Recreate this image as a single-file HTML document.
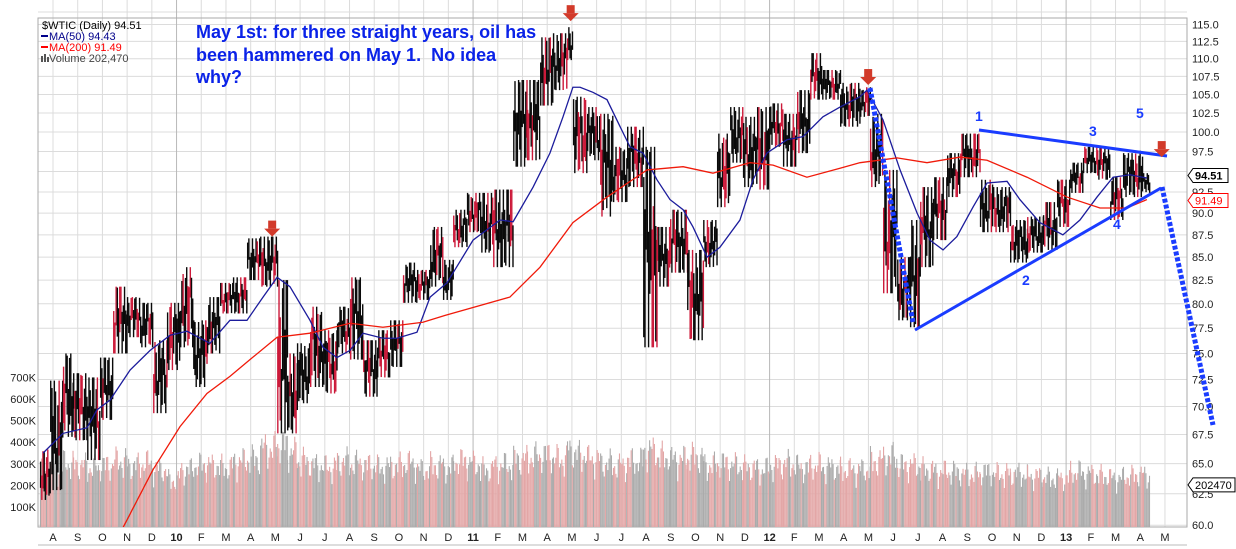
<!DOCTYPE html>
<html><head><meta charset="utf-8"><style>
body{margin:0;background:#fff;}
svg{display:block;font-family:"Liberation Sans",Arial,sans-serif;}
</style></head><body>
<svg id="c" width="1236" height="549" viewBox="0 0 1236 549">
<rect width="1236" height="549" fill="#fff"/>
<g id="grid"></g>
<g id="vol"></g>
<g id="price"></g>
<g id="ma"></g>
<g id="axes"></g>
<g id="anno">
  <text x="196" y="38" font-size="18" font-weight="bold" fill="#0a22e8">May 1st: for three straight years, oil has</text>
  <text x="196" y="61" font-size="18" font-weight="bold" fill="#0a22e8">been hammered on May 1.&#160; No idea</text>
  <text x="196" y="83" font-size="18" font-weight="bold" fill="#0a22e8">why?</text>
  <line x1="870" y1="88" x2="913" y2="322" stroke="#1a3cff" stroke-width="5" stroke-dasharray="4 2"/>
  <line x1="1162" y1="187" x2="1213" y2="425" stroke="#1a3cff" stroke-width="5" stroke-dasharray="4 2"/>
  <line x1="979" y1="130" x2="1167" y2="156" stroke="#1a3cff" stroke-width="3"/>
  <line x1="915" y1="330" x2="1161" y2="188" stroke="#1a3cff" stroke-width="3"/>
  <g font-size="14" font-weight="bold" fill="#1a3cff">
    <text x="975" y="121">1</text>
    <text x="1022" y="285">2</text>
    <text x="1089" y="136">3</text>
    <text x="1113" y="229">4</text>
    <text x="1136" y="118">5</text>
  </g>
</g>
<g id="legend" font-size="11">
  <text x="42" y="29" fill="#000">$WTIC (Daily) 94.51</text>
  <line x1="41" y1="36" x2="48" y2="36" stroke="#00008b" stroke-width="2"/>
  <text x="49" y="40" fill="#00008b">MA(50) 94.43</text>
  <line x1="41" y1="47" x2="48" y2="47" stroke="#f00" stroke-width="2"/>
  <text x="49" y="51" fill="#f00">MA(200) 91.49</text>
  <text x="49" y="62" fill="#444">Volume 202,470</text>
  <rect x="41" y="56" width="2" height="6" fill="#555"/><rect x="44" y="54" width="2" height="8" fill="#555"/><rect x="47" y="57" width="2" height="5" fill="#555"/>
</g>
</svg>
<script>
// period start times (months since Aug 1 2009) — last entry is end
const periodT=[-0.53,-0.12,0.40,0.81,1.38,1.90,2.43,2.99,3.52,4.05,4.61,5.14,5.67,6.23,6.76,7.28,7.85,8.38,9.07,9.47,9.87,10.40,10.93,11.49,12.02,12.55,13.11,13.64,14.16,14.73,15.26,15.78,16.19,16.75,17.28,17.81,18.62,19.18,19.71,20.23,20.80,21.04,21.61,22.14,22.66,23.23,23.88,24.44,24.97,25.66,26.31,26.87,27.40,27.92,28.49,29.02,29.54,30.11,30.64,31.16,31.85,32.66,33.06,33.59,34.16,34.68,35.09,35.61,36.18,36.71,37.51,38.04,38.73,39.42,40.06,40.63,41.16,41.68,42.25,42.78,43.30,43.87,44.11,44.39];
const highs=[66.2,72.4,75.0,73.1,72.7,74.6,81.8,80.7,80.1,76.3,80.1,83.9,78.3,80.7,82.2,82.8,87.1,87.3,82.5,75.0,76.0,79.7,77.3,79.7,82.8,76.3,77.3,78.3,84.4,83.6,88.4,84.7,90.4,92.4,92.4,92.8,107.0,107.0,113.1,113.7,114.6,104.7,103.3,102.4,98.1,100.7,98.1,88.4,90.4,85.8,89.2,99.8,103.3,102.0,103.3,103.8,102.4,105.6,110.8,108.4,106.6,106.0,102.4,95.2,85.0,89.2,93.1,94.3,97.3,99.8,94.0,93.1,89.2,89.6,91.3,94.0,96.1,98.1,98.1,94.3,97.3,97.6,94.8];
const lows=[62.0,62.8,67.3,67.0,65.3,68.8,75.0,76.6,75.6,69.4,73.4,75.6,71.8,75.0,79.0,79.0,82.5,81.8,67.6,67.6,70.3,71.8,71.2,75.0,74.4,70.9,72.7,73.7,80.1,80.4,81.8,80.4,86.1,87.8,85.5,83.9,95.6,96.4,103.5,105.6,109.8,94.8,96.4,89.6,91.3,93.1,75.6,81.8,83.3,76.3,83.9,90.7,96.1,93.1,92.8,98.1,95.6,97.3,104.3,104.3,100.7,102.0,93.1,81.1,78.3,77.6,83.9,86.9,91.9,94.3,87.8,87.8,84.4,85.5,85.8,88.4,92.4,94.8,94.0,89.2,91.9,91.9,92.4];
const volumeK=[300,280,310,300,290,300,320,300,310,280,230,280,300,300,290,320,330,380,400,360,320,300,290,320,310,300,290,300,310,280,300,290,320,310,280,300,330,340,350,330,380,350,330,310,300,320,370,340,330,340,300,310,300,290,280,300,310,290,300,290,280,280,320,340,300,300,280,270,270,260,270,260,260,250,240,240,270,260,250,240,250,260,250];
const ma50T=[-0.40,0.40,1.38,1.78,2.31,3.12,3.93,4.74,5.42,6.35,7.16,7.85,8.50,9.07,9.59,10.40,10.93,11.49,12.02,12.55,13.35,13.92,14.73,15.26,15.94,17.00,18.09,18.62,19.43,20.11,20.64,21.04,21.33,21.85,22.42,22.95,23.35,23.88,24.44,24.97,25.50,25.90,26.47,26.99,27.80,28.33,28.89,29.70,30.35,31.16,31.85,32.66,32.94,33.59,34.28,34.97,35.49,36.02,36.58,37.23,37.80,38.61,39.13,39.94,40.87,41.56,42.25,42.90,43.59,44.27];
const ma50V=[65.9,67.6,68.1,69.7,70.6,73.4,75.3,76.8,77.2,76.0,78.3,78.3,80.7,82.8,81.8,78.3,75.6,74.6,75.3,77.0,76.5,76.5,77.1,80.7,82.2,86.9,89.2,89.0,93.1,97.3,102.0,106.0,106.0,105.3,104.3,100.7,98.1,97.3,94.0,91.6,90.4,88.4,85.0,86.1,89.2,94.0,97.3,99.0,99.4,102.0,103.3,104.7,105.6,101.6,95.2,90.0,86.9,85.8,87.3,90.7,93.6,93.8,91.6,88.9,87.5,89.2,91.9,94.3,94.6,94.2];
const ma200T=[2.83,4.05,5.14,6.23,7.16,7.97,9.07,10.40,12.02,13.35,14.97,15.87,18.49,19.71,21.04,22.42,24.04,25.50,26.71,28.21,29.14,30.51,31.85,32.66,34.16,35.37,36.71,37.80,39.42,41.04,42.37,43.46,44.27];
const ma200V=[59.8,64.5,68.2,71.2,72.8,74.4,76.6,77.0,78.0,77.6,78.1,78.8,80.7,83.9,88.9,91.9,95.2,95.6,94.8,96.1,95.8,94.3,95.4,96.1,96.7,96.1,96.8,96.4,94.3,91.9,90.6,90.6,91.6];
const monthLabels=['A','S','O','N','D','10','F','M','A','M','J','J','A','S','O','N','D','11','F','M','A','M','J','J','A','S','O','N','D','12','F','M','A','M','J','J','A','S','O','N','D','13','F','M','A','M'];
const priceTicks=[115,112.5,110,107.5,105,102.5,100,97.5,95,92.5,90,87.5,85,82.5,80,77.5,75,72.5,70,67.5,65,62.5,60];
const volTicks=[700,600,500,400,300,200,100];
const arrowsT=[8.87,20.95,32.99,44.87];
const arrowsP=[87.3,115.5,106.3,96.8];

const NS='http://www.w3.org/2000/svg';
const L=38,R=1187,T=18,B=527;
const X=t=>53+t*24.71;
const Y=v=>24.5+769.6*Math.log(115/v);
const VY=k=>528.6-k*0.216;
function mk(tag,attrs,parent){const e=document.createElementNS(NS,tag);for(const k in attrs)e.setAttribute(k,attrs[k]);parent.appendChild(e);return e;}
const grid=document.getElementById('grid'),vol=document.getElementById('vol'),price=document.getElementById('price'),ma=document.getElementById('ma'),axes=document.getElementById('axes');

priceTicks.forEach(v=>{const l=mk('line',{x1:L,x2:R,y1:Y(v),y2:Y(v),stroke:'#dcdcdc','stroke-width':1},grid);

});
mk('line',{x1:L,x2:R,y1:12,y2:12,stroke:'#dcdcdc'},grid);
monthLabels.forEach((m,i)=>{const yr=/\d/.test(m);const l=mk('line',{x1:X(i),x2:X(i),y1:0,y2:B,stroke:yr?'#b8b8b8':'#dcdcdc','stroke-width':1},grid);

});
mk('rect',{x:L,y:T,width:R-L,height:B-T,fill:'none',stroke:'#aaa'},grid);
mk('line',{x1:R+74,x2:R+74,y1:0,y2:549,stroke:'#ccc'},grid);
mk('line',{x1:L,x2:R,y1:545,y2:545,stroke:'#bbb'},grid);

const defs=mk('defs',{},document.getElementById('c'));
const cp=mk('clipPath',{id:'pc'},defs);mk('rect',{x:L,y:T,width:R-L,height:B-T},cp);
vol.setAttribute('clip-path','url(#pc)');ma.setAttribute('clip-path','url(#pc)');

const step=1.2;
let j=0;
for(let i=0;i<highs.length;i++){
  const x0=X(periodT[i]),x1=X(periodT[i+1]);
  const yh=Y(highs[i]),yl=Y(lows[i]),rng=yl-yh;
  for(let x=x0;x<x1-0.2;x+=step,j++){
    const c=0.5+0.3*Math.sin(j*1.9)+0.1*Math.sin(j*0.53);
    const hh=rng*(0.26+0.14*Math.abs(Math.sin(j*2.7)));
    const cy=yh+rng*c;
    const red=(Math.sin(j*1.3)+Math.sin(j*0.41))>0.7;
    const top=Math.max(yh,cy-hh),bot=Math.min(yl,cy+hh);
    const pr=mk('rect',{x:x,y:top,width:1.4,height:Math.max(2,bot-top),fill:red?'#cc1a3a':'#0a0a0a'},price);
    
    
    const vk=volumeK[i]*(0.78+0.3*Math.abs(Math.sin(j*2.3))+0.12*Math.sin(j*0.7));
    const pink=(Math.sin(j*0.9)+Math.sin(j*0.23))>0;
    const vr=mk('rect',{x:x,y:VY(vk),width:1.1,height:528.6-VY(vk),fill:pink?'#e3a6a6':'#ababab'},vol);
    
    
  }
}
const p50=mk('polyline',{points:ma50T.map((t,i)=>X(t)+','+Y(ma50V[i])).join(' '),fill:'none',stroke:'#1c1c9c','stroke-width':1.3},ma);


const p200=mk('polyline',{points:ma200T.map((t,i)=>X(t)+','+Y(ma200V[i])).join(' '),fill:'none',stroke:'#f01a0a','stroke-width':1.3},ma);



arrowsT.forEach((t,i)=>{const x=X(t),y=Y(arrowsP[i]);
  const g=mk('g',{fill:'#d23a2a'},document.getElementById('anno'));
  
  
  mk('rect',{x:x-4,y:y-16,width:8,height:8},g);
  mk('polygon',{points:`${x-8},${y-8} ${x+8},${y-8} ${x},${y}`},g);
});

priceTicks.forEach(v=>{if(v===95)return;const tx=mk('text',{x:1192,y:Y(v)+4,'font-size':11,fill:'#222'},axes);tx.textContent=v.toFixed(1);

});
volTicks.forEach(k=>{const tx=mk('text',{x:36,y:VY(k)+4,'font-size':11,fill:'#222','text-anchor':'end'},axes);tx.textContent=k+'K';

});
monthLabels.forEach((m,i)=>{const yr=/\d/.test(m);const tx=mk('text',{x:X(i),y:541,'font-size':11,fill:'#222','text-anchor':'middle','font-weight':yr?'bold':'normal'},axes);tx.textContent=m;

});

function tag(y,txt,col,bold,name){const g=mk('g',{},axes);


mk('polygon',{points:`1188,${y} 1193,${y-7} ${1193+txt.length*7},${y-7} ${1193+txt.length*7},${y+7} 1193,${y+7}`,fill:'#fff',stroke:col,'stroke-width':1},g);
const t=mk('text',{x:1195,y:y+4,'font-size':11,fill:col==='red'?'red':'#000','font-weight':bold?'bold':'normal'},g);t.textContent=txt;}
tag(Y(94.51),'94.51','#000',true,'last-price-tag');
tag(Y(91.49),'91.49','red',false,'ma200-tag');
tag(VY(202.47),'202470','#000',false,'volume-tag');
</script>
</body></html>
